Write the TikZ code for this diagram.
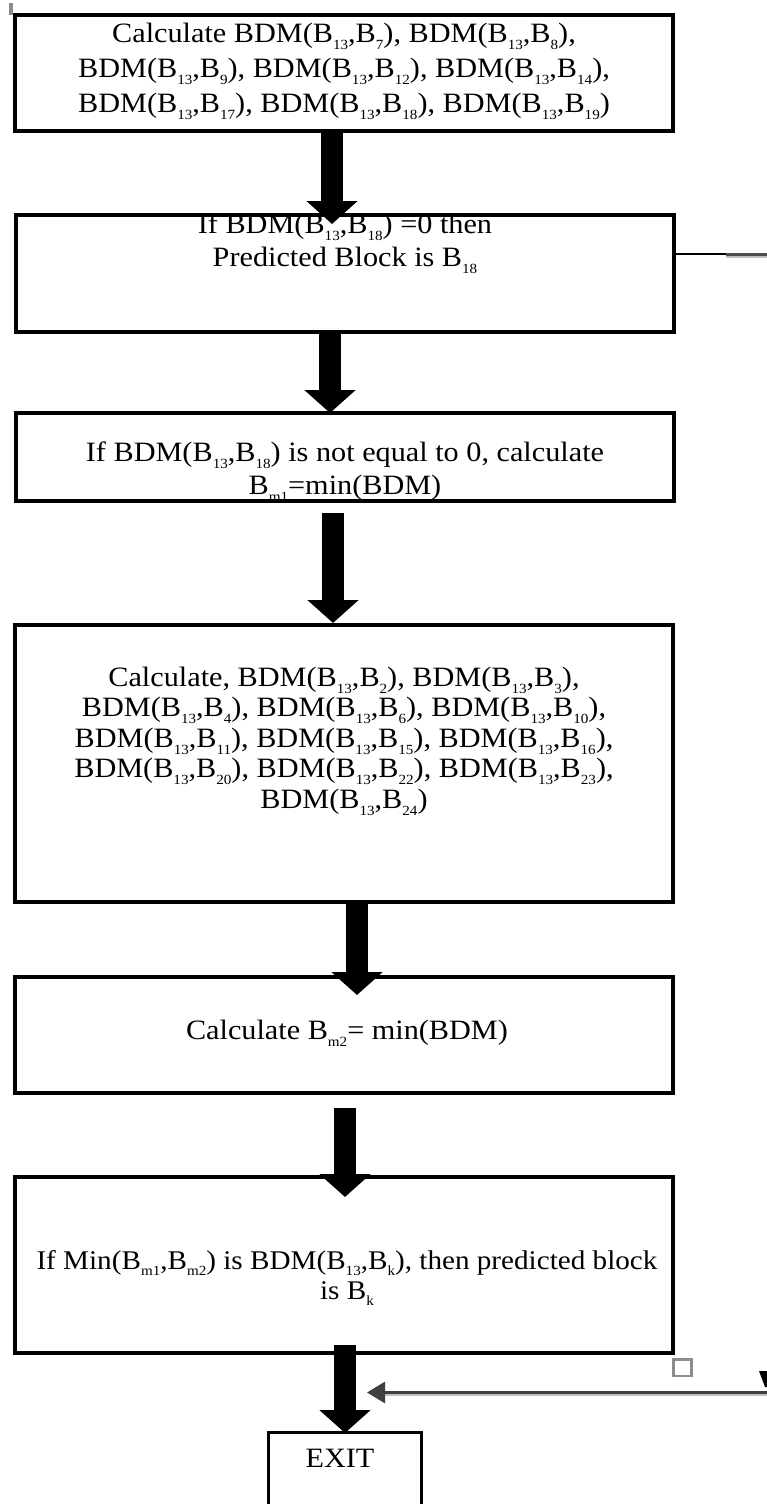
\documentclass[tikz,border=0pt]{standalone}
\usepackage{fontspec}
\setmainfont{Liberation Serif}[FakeStretch=1.08]
\usetikzlibrary{arrows.meta,calc}
% lowered small index after a block name
\newcommand{\sbx}[1]{\raisebox{-0.25em}{\fontsize{14}{14}\selectfont #1}}
\newcommand{\bdm}[2]{BDM(B\sbx{#1},B\sbx{#2})}
\begin{document}
\begin{tikzpicture}[x=1pt,y=-1pt,
  box/.style={draw, line width=3.5pt, inner sep=0pt, outer sep=0pt},
  txt/.style={align=center, inner sep=0pt, font=\fontsize{28}{31}\selectfont},
  blk/.style={line width=22pt, -{Triangle[width=50pt,length=23pt]}},
  feed/.style={line width=3pt, draw=black!75}]
\useasboundingbox (0,0) rectangle (767,1504);

% process boxes
\node[box, minimum width=658pt, minimum height=116pt] (b1) at (344,73) {};
\node[box, minimum width=658pt, minimum height=117pt] (b2) at (345,273.5) {};
\node[box, minimum width=658pt, minimum height=88pt] (b3) at (345,457) {};
\node[box, minimum width=658pt, minimum height=277pt] (b4) at (344,763.5) {};
\node[box, minimum width=658pt, minimum height=116pt] (b5) at (344,1035) {};
\node[box, minimum width=658pt, minimum height=176pt] (b6) at (344,1265) {};
\node[box, line width=3pt, minimum width=153pt, minimum height=100pt] (ex) at (344.5,1482) {};

% box texts
\node[txt, font=\fontsize{28}{35}\selectfont] (t1) at (344,71)
  {Calculate \bdm{13}{7}, \bdm{13}{8},\\
   \bdm{13}{9}, \bdm{13}{12}, \bdm{13}{14},\\
   \bdm{13}{17}, \bdm{13}{18}, \bdm{13}{19}};
\node[txt, font=\fontsize{28}{33}\selectfont] (t2) at (345,244)
  {If \bdm{13}{18} =0 then\\ Predicted Block is B\sbx{18}};
\node[txt, font=\fontsize{28}{33}\selectfont] (t3) at (345,472)
  {If \bdm{13}{18} is not equal to 0, calculate\\ B\sbx{m1}=min(BDM)};
\node[txt, font=\fontsize{28}{30.5}\selectfont] (t4) at (344,741)
  {Calculate, \bdm{13}{2}, \bdm{13}{3},\\
   \bdm{13}{4}, \bdm{13}{6}, \bdm{13}{10},\\
   \bdm{13}{11}, \bdm{13}{15}, \bdm{13}{16},\\
   \bdm{13}{20}, \bdm{13}{22}, \bdm{13}{23},\\
   \bdm{13}{24}};
\node[txt] (t5) at (347,1033) {Calculate B\sbx{m2}= min(BDM)};
\node[txt, font=\fontsize{27}{30}\selectfont] (t6) at (347,1278)
  {If Min(B\sbx{m1},B\sbx{m2}) is \bdm{13}{k}, then predicted block\\ is B\sbx{k}};
\node[txt] (t7) at (340,1458) {EXIT};

% block arrows between the steps
\draw[blk] ($(b1.south)+(-12,0)$) -- ($(b2.north)+(-13,9)$);
\draw[blk] ($(b2.south)+(-15,0)$) -- ($(b3.north)+(-15,0)$);
\draw[blk] ($(b3.south)+(-12,12)$) -- ($(b4.north)+(-11,-2)$);
\draw[blk] ($(b4.south)+(13,0)$) -- ($(b5.north)+(13,18)$);
\draw[blk] ($(b5.south)+(1,15)$) -- ($(b6.north)+(1,20)$);
\draw[blk] ($(b6.south)+(1,-8)$) -- ($(ex.north)+(0.5,1)$);

% branch leaving the second step
\coordinate (r2a) at (726,254);
\coordinate (r2b) at (767,254);
\draw[line width=2.5pt] ($(b2.north east)+(0,39)$) -- (r2a);
\draw[line width=3pt, draw=black!70] (r2a) -- (r2b);
\draw[line width=2pt, draw=black!25] ($(r2a)+(0,2.5)$) -- ($(r2b)+(0,2.5)$);

% branch returning before the exit
\coordinate (r6) at (767,1392.5);
\coordinate (j6) at (367,1392.5);
\draw[line width=2pt, draw=black!25] ($(r6)+(0,2.5)$) -- ($(j6)+(18,2.5)$);
\draw[feed, -{Triangle[width=21pt,length=18pt]}] (r6) -- (j6);

% small marks
\draw[line width=2.5pt, draw=black!45] (673.5,1359.5) rectangle (691.5,1376);
\fill (759,1371) -- (767,1371) -- (767,1387) -- (765,1387) -- cycle;
\fill[black!45] (9,3) rectangle (13,15);
\end{tikzpicture}
\end{document}
